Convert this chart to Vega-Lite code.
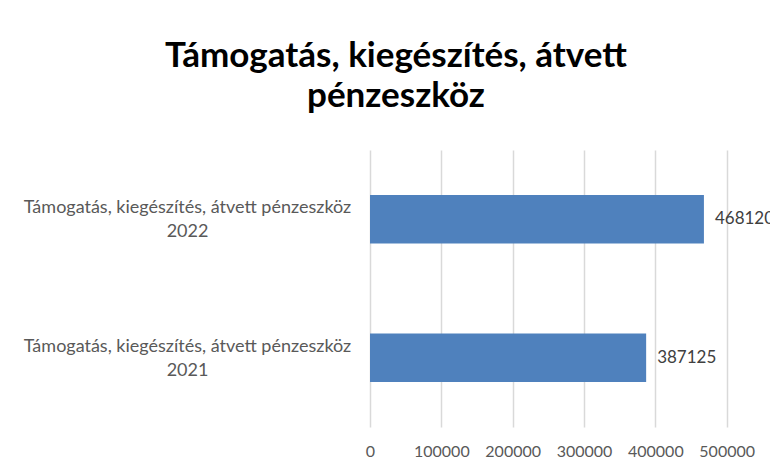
{
  "$schema": "https://vega.github.io/schema/vega-lite/v6.json",
  "autosize": {"type": "none"},
  "width": 428,
  "height": 277,
  "padding": {"left": 370, "top": 150, "right": 0, "bottom": 43},
  "background": "white",
  "title": {
    "text": ["Támogatás, kiegészítés, átvett", "pénzeszköz"],
    "font": "Lato",
    "fontWeight": "bold",
    "fontSize": 35,
    "color": "#000000",
    "anchor": "middle",
    "dx": -188,
    "offset": 36,
    "lineHeight": 40
  },
  "data": {
    "values": [
      {"category": "Támogatás, kiegészítés, átvett pénzeszköz 2022", "value": 468120},
      {"category": "Támogatás, kiegészítés, átvett pénzeszköz 2021", "value": 387125}
    ]
  },
  "encoding": {
    "y": {
      "field": "category",
      "type": "nominal",
      "sort": null,
      "scale": {"paddingInner": 0.65, "paddingOuter": 0.325},
      "axis": {
        "title": null,
        "domain": false,
        "ticks": false,
        "grid": false,
        "labelAlign": "center",
        "labelBaseline": "middle",
        "labelPadding": 183,
        "labelOffset": -11,
        "labelLimit": 0,
        "labelFont": "Lato",
        "labelFontSize": 18,
        "labelColor": "#595959",
        "labelLineHeight": 24,
        "labelExpr": "[slice(datum.label, 0, -5), slice(datum.label, -4)]"
      }
    },
    "x": {
      "field": "value",
      "type": "quantitative",
      "scale": {"domain": [0, 600000], "nice": false},
      "axis": {
        "title": null,
        "values": [0, 100000, 200000, 300000, 400000, 500000],
        "format": "d",
        "domain": false,
        "ticks": false,
        "grid": true,
        "gridColor": "#d9d9d9",
        "gridWidth": 1.5,
        "labelPadding": 16,
        "labelFont": "Lato",
        "labelFontSize": 16,
        "labelColor": "#595959",
        "labelFlush": false
      }
    }
  },
  "layer": [
    {"mark": {"type": "bar", "color": "#4f81bd"}},
    {
      "mark": {"type": "text", "align": "left", "baseline": "middle", "dx": 11, "font": "Lato", "fontSize": 17, "color": "#404040"},
      "encoding": {"text": {"field": "value", "type": "quantitative", "format": "d"}}
    }
  ],
  "config": {"view": {"stroke": null}}
}
